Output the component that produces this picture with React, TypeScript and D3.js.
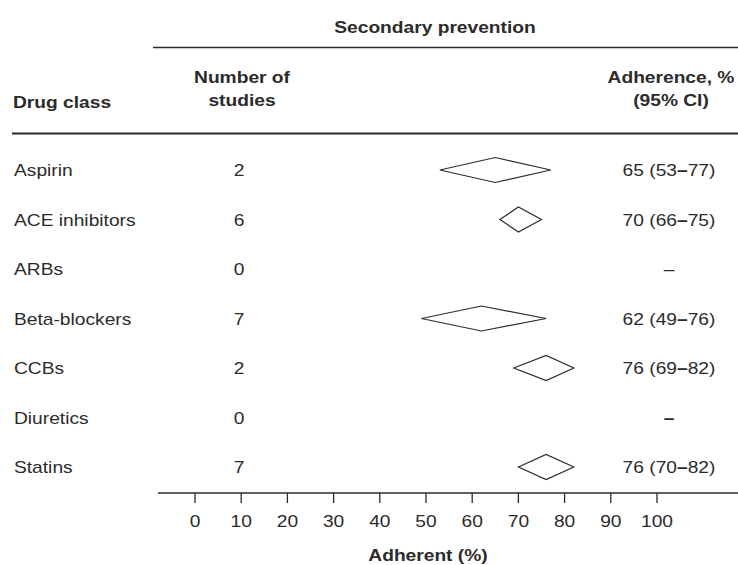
import React from 'react';
import * as d3 from 'd3';

const drugs = ['Aspirin', 'ACE inhibitors', 'ARBs', 'Beta-blockers', 'CCBs', 'Diuretics', 'Statins'];
const studies = [2, 6, 0, 7, 2, 0, 7];
const estimate = [65, 70, null, 62, 76, null, 76];
const lower = [53, 66, null, 49, 69, null, 70];
const upper = [77, 75, null, 76, 82, null, 82];
const boldDash = [false, false, false, false, false, true, false];
const xTicks = [0, 10, 20, 30, 40, 50, 60, 70, 80, 90, 100];

const W = 738;
const H = 565;
const ink = '#2b2b2b';
const SX = 1.2; // the scanned type is wider than Arial

// text helper: stretched horizontally like the source
const T = ({ x, y, anchor = 'start', bold = false, children }: any) => (
  <text
    transform={`translate(${x},${y}) scale(${SX},1)`}
    textAnchor={anchor}
    fontWeight={bold ? 'bold' : 'normal'}
    fontSize={16}
    fill={ink}
  >
    {children}
  </text>
);

export default function App() {
  const x = d3.scaleLinear().domain([0, 100]).range([195, 657]);
  const y = d3.scaleLinear().domain([0, drugs.length - 1]).range([170, 467]);
  const half = 12.5;
  const axisY = 493;

  return (
    <svg
      width={W}
      height={H}
      style={{ position: 'absolute', left: 0, top: 0, background: '#fff' }}
      fontFamily="'Liberation Sans', Arial, sans-serif"
    >
      <T x={435} y={33} anchor="middle" bold>Secondary prevention</T>
      <line x1={153} x2={738} y1={47.5} y2={47.5} stroke={ink} strokeWidth={1.6} />

      <T x={242} y={83} anchor="middle" bold>Number of</T>
      <T x={242} y={106} anchor="middle" bold>studies</T>
      <T x={13} y={108} bold>Drug class</T>
      <T x={671} y={83} anchor="middle" bold>Adherence, %</T>
      <T x={671} y={106} anchor="middle" bold>(95% CI)</T>
      <line x1={12} x2={738} y1={133.5} y2={133.5} stroke={ink} strokeWidth={2} />

      {drugs.map((d, i) => {
        const cy = y(i);
        const e = estimate[i];
        return (
          <g key={d}>
            <T x={14} y={cy + 6}>{d}</T>
            <T x={239} y={cy + 6} anchor="middle">{studies[i]}</T>
            {e != null && (
              <polygon
                points={[
                  [x(lower[i]!), cy],
                  [x(e), cy - half],
                  [x(upper[i]!), cy],
                  [x(e), cy + half],
                ].map(p => p.join(',')).join(' ')}
                fill="#fff"
                stroke={ink}
                strokeWidth={1.2}
              />
            )}
            {e != null ? (
              <T x={669} y={cy + 6} anchor="middle">
                {`${e} (${lower[i]}`}
                <tspan fontWeight="bold">–</tspan>
                {`${upper[i]})`}
              </T>
            ) : (
              <T x={669} y={cy + 6} anchor="middle" bold={boldDash[i]}>–</T>
            )}
          </g>
        );
      })}

      <line x1={158} x2={738} y1={axisY} y2={axisY} stroke={ink} strokeWidth={1.6} />
      {xTicks.map(t => (
        <g key={t}>
          <line x1={x(t)} x2={x(t)} y1={axisY} y2={axisY + 10} stroke={ink} strokeWidth={1.3} />
          <T x={x(t)} y={527} anchor="middle">{t}</T>
        </g>
      ))}
      <T x={428} y={561} anchor="middle" bold>Adherent (%)</T>
    </svg>
  );
}
